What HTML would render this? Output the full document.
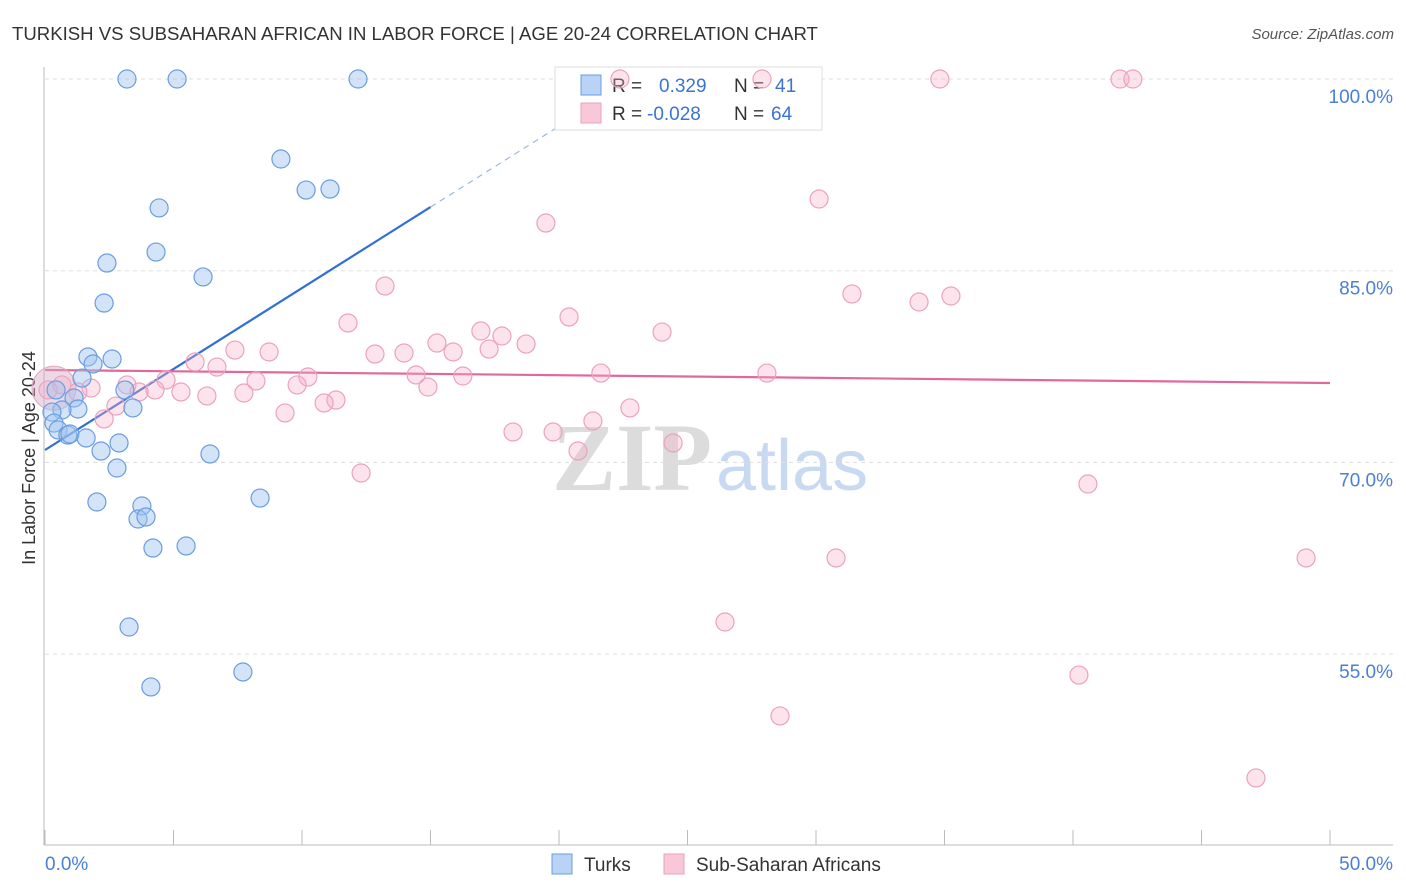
<!DOCTYPE html>
<html><head><meta charset="utf-8"><style>
body{margin:0;background:#fff;font-family:"Liberation Sans",sans-serif;}
svg{display:block}
</style></head><body>
<svg id="chart" width="1406" height="892" xmlns="http://www.w3.org/2000/svg">
<text x="12" y="40" font-size="18.6" fill="#333">TURKISH VS SUBSAHARAN AFRICAN IN LABOR FORCE | AGE 20-24 CORRELATION CHART</text>
<text x="1394" y="39" font-size="15" fill="#555" text-anchor="end" font-style="italic">Source: ZipAtlas.com</text>
<text x="35" y="458" font-size="18" fill="#333" text-anchor="middle" transform="rotate(-90 35 458)">In Labor Force | Age 20-24</text>
<g>
<text x="552" y="490" font-size="96" fill="#dcdcdc" font-family="Liberation Serif,serif" font-weight="bold">ZIP</text>
<text x="716" y="490" font-size="72" fill="#c8daf2">atlas</text>
</g>
<g id="grid"></g><g id="axes"></g><g id="lines"></g>
<g>
<rect x="555" y="67" width="267" height="63" fill="#fff" stroke="#ddd"/>
<rect x="581" y="75" width="20" height="20" fill="#b8d3f5" stroke="#6a9de0"/>
<text x="612" y="92" font-size="19" fill="#333">R =</text><text x="659" y="92" font-size="19" fill="#3a74d4">0.329</text>
<text x="734" y="92" font-size="19" fill="#333">N =</text><text x="775" y="92" font-size="19" fill="#3a74d4">41</text>
<rect x="581" y="103" width="20" height="20" fill="#f9c8d8" stroke="#eaa0ba"/>
<text x="612" y="120" font-size="19" fill="#333">R =</text><text x="647" y="120" font-size="19" fill="#3a74d4">-0.028</text>
<text x="734" y="120" font-size="19" fill="#333">N =</text><text x="771" y="120" font-size="19" fill="#3a74d4">64</text>
</g>
<g id="pts"></g>
<g>
<rect x="552" y="854" width="20" height="20" fill="#b8d3f5" stroke="#6a9de0"/>
<text x="584" y="871" font-size="19" fill="#333">Turks</text>
<rect x="664" y="854" width="20" height="20" fill="#f9c8d8" stroke="#eaa0ba"/>
<text x="696" y="871" font-size="19" fill="#333">Sub-Saharan Africans</text>
</g>
</svg>
<script>
const yTicks=[100,85,70,55];
const xTickLabels=["0.0%","50.0%"];
const turksX=[3.19,5.14,12.18,9.18,10.16,11.09,4.44,4.32,2.41,6.15,2.30,1.67,2.61,1.87,1.44,3.11,0.43,1.13,3.42,1.28,0.66,0.27,0.35,0.51,0.89,0.97,1.60,2.88,2.18,6.42,2.80,8.37,2.02,3.77,3.62,3.93,4.20,5.49,3.27,7.70,4.12];
const turksY=[100,100,100,93.74,91.31,91.39,89.91,86.46,85.60,84.51,82.47,78.25,78.09,77.70,76.60,75.67,75.67,75.04,74.26,74.18,74.10,73.94,73.08,72.54,72.14,72.22,71.91,71.52,70.89,70.66,69.56,67.21,66.90,66.59,65.57,65.73,63.30,63.46,57.12,53.60,52.43];
const ssaX=[22.37,27.90,34.82,41.83,42.33,30.12,19.49,13.23,31.40,34.01,35.25,11.79,20.39,24.01,16.96,17.78,15.25,18.72,15.88,17.28,7.39,8.72,12.84,13.97,5.84,6.69,21.63,28.09,14.44,16.26,4.71,10.23,8.21,9.81,14.90,0.66,0.12,1.79,3.19,4.28,5.29,3.66,1.28,6.30,7.74,11.32,10.86,2.76,9.34,22.76,2.30,21.32,18.21,19.77,20.74,24.44,12.30,40.58,30.78,49.07,26.46,40.23,28.60,47.12];
const ssaY=[100,100,100,100,100,90.61,88.73,83.80,83.18,82.55,83.02,80.91,81.38,80.20,80.28,79.89,79.34,79.26,78.64,78.87,78.79,78.64,78.48,78.56,77.86,77.46,76.99,76.99,76.84,76.76,76.45,76.68,76.37,76.06,75.90,76.06,75.67,75.82,76.06,75.67,75.51,75.51,75.51,75.20,75.43,74.88,74.65,74.41,73.87,74.26,73.40,73.24,72.38,72.38,70.89,71.52,69.17,68.31,62.52,62.52,57.51,53.36,50.16,45.31];
const turksFit=[0,70.97,15,89.98,20,96.3];
const ssaFit=[0,77.23,50,76.21];
const NS="http://www.w3.org/2000/svg";
const xs=v=>45+v*25.7, ys=v=>79+(100-v)*12.78;
function mk(t,a,p){const e=document.createElementNS(NS,t);for(const k in a)e.setAttribute(k,a[k]);document.getElementById(p).appendChild(e);return e;}
yTicks.forEach(t=>{
 const l=mk('line',{x1:45,x2:1393,y1:ys(t),y2:ys(t),stroke:'#ddd','stroke-dasharray':'4 4'},'grid');
 
 
 const tx=mk('text',{x:1393,y:ys(t)+24,'font-size':19,fill:'#4a7fd4','text-anchor':'end'},'grid');
 tx.textContent=t.toFixed(1)+'%';
 
 
});
const ya=mk('line',{x1:44,x2:44,y1:67,y2:845,stroke:'#bbb'},'axes');


const xa=mk('line',{x1:44,x2:1393,y1:845,y2:845,stroke:'#bbb'},'axes');


for(let i=0;i<=10;i++){const t=mk('line',{x1:xs(i*5),x2:xs(i*5),y1:830,y2:845,stroke:'#bbb'},'axes');
 
 }
xTickLabels.forEach((s,i)=>{const t=mk('text',{x:i?1393:45,y:870,'font-size':19,fill:'#4a7fd4','text-anchor':i?'end':'start'},'axes');t.textContent=s;
 
 });
const big=mk('circle',{cx:xs(0.35),cy:ys(75.8),r:22,fill:'rgba(215,170,200,0.45)',stroke:'#e0a8c0'},'pts');


ssaX.forEach((x,i)=>{const c=mk('circle',{cx:xs(x),cy:ys(ssaY[i]),r:9,fill:'rgba(246,175,200,0.35)',stroke:'#eca2bd','stroke-width':1.2},'pts');
 
 });
turksX.forEach((x,i)=>{const c=mk('circle',{cx:xs(x),cy:ys(turksY[i]),r:9,fill:'rgba(160,196,240,0.45)',stroke:'#6a9de0','stroke-width':1.2},'pts');
 
 });
const bl=mk('line',{x1:xs(turksFit[0]),y1:ys(turksFit[1]),x2:xs(turksFit[2]),y2:ys(turksFit[3]),stroke:'#2f6fd6','stroke-width':2.2},'lines');


const bd=mk('line',{x1:xs(turksFit[2]),y1:ys(turksFit[3]),x2:xs(turksFit[4]),y2:ys(turksFit[5]),stroke:'#9ab8e0','stroke-width':1.2,'stroke-dasharray':'6 5'},'lines');


const pl=mk('line',{x1:xs(ssaFit[0]),y1:ys(ssaFit[1]),x2:xs(ssaFit[2]),y2:ys(ssaFit[3]),stroke:'#e2689a','stroke-width':2.2},'lines');


</script>
</body></html>
